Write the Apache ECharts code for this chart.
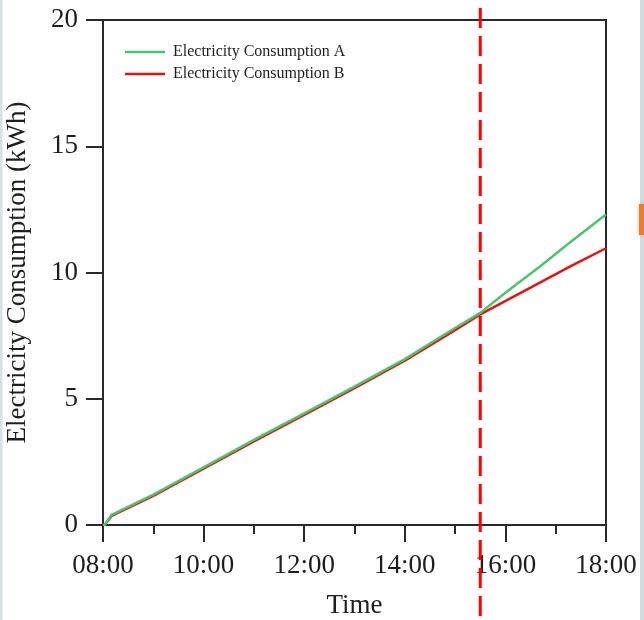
<!DOCTYPE html>
<html>
<head>
<meta charset="utf-8">
<script src="https://cdn.jsdelivr.net/npm/echarts@6/dist/echarts.min.js"></script>
<style>
  html, body { margin: 0; padding: 0; background: #fff; }
  #chart { width: 644px; height: 620px; }
</style>
</head>
<body>
<div id="chart"></div>
<script>
// Time of day in hours
const hoursA = [8.0, 8.04, 8.17, 9, 10, 11, 12, 13, 14, 15, 15.5, 16, 16.7, 17.3, 18];
const consumptionA = [0, 0.02, 0.40, 1.20, 2.28, 3.37, 4.42, 5.48, 6.57, 7.80, 8.40, 9.20, 10.26, 11.22, 12.30];

const hoursB = [8.0, 8.04, 8.17, 9, 10, 11, 12, 13, 14, 15, 15.5, 16.5, 17.3, 18];
const consumptionB = [0, 0.02, 0.36, 1.15, 2.23, 3.31, 4.36, 5.42, 6.51, 7.72, 8.34, 9.40, 10.25, 10.96];

const xTicks = ['08:00', '10:00', '12:00', '14:00', '16:00', '18:00'];
const markerHour = 15.5;

const seriesNames = ['Electricity Consumption A', 'Electricity Consumption B'];
const serif = "'Liberation Serif', 'Times New Roman', serif";
const ink = '#1e1e1e';

function pairs(xs, ys) { return xs.map((x, i) => [x, ys[i]]); }
function hourLabel(v) {
  const h = Math.round(v);
  return (h < 10 ? '0' : '') + h + ':00';
}

const chart = echarts.init(document.getElementById('chart'));
chart.setOption({
  animation: false,
  backgroundColor: '#ffffff',
  grid: [
    { left: 103, top: 20, right: 38, bottom: 95, show: true, borderColor: '#2a2a2a', borderWidth: 2,
      containLabel: false, outerBoundsMode: 'none' },
    { left: 103, top: 8, right: 38, bottom: 0, containLabel: false, outerBoundsMode: 'none' }
  ],
  xAxis: [
    {
      type: 'value', gridIndex: 0, min: 8, max: 18, interval: 2,
      name: 'Time', nameLocation: 'middle', nameGap: 67,
      nameTextStyle: { fontFamily: serif, fontSize: 27, color: ink },
      axisLine: { show: true, lineStyle: { color: '#2a2a2a', width: 2 } },
      axisTick: { show: true, length: 17, lineStyle: { color: '#2a2a2a', width: 2 } },
      minorTick: { show: true, splitNumber: 2, length: 9, lineStyle: { color: '#2a2a2a', width: 2 } },
      splitLine: { show: false },
      axisLabel: {
        margin: 27, fontFamily: serif, fontSize: 27, color: ink,
        formatter: (v) => xTicks[Math.round((v - 8) / 2)] || hourLabel(v)
      }
    },
    { type: 'value', gridIndex: 1, min: 8, max: 18, show: false }
  ],
  yAxis: [
    {
      type: 'value', gridIndex: 0, min: 0, max: 20, interval: 5,
      name: 'Electricity Consumption (kWh)', nameLocation: 'middle', nameGap: 72,
      nameTextStyle: { fontFamily: serif, fontSize: 27, color: ink },
      axisLine: { show: true, lineStyle: { color: '#2a2a2a', width: 2 } },
      axisTick: { show: true, length: 17, lineStyle: { color: '#2a2a2a', width: 2 } },
      splitLine: { show: false },
      axisLabel: { margin: 25, fontFamily: serif, fontSize: 27, color: ink }
    },
    { type: 'value', gridIndex: 1, min: 0, max: 1, show: false }
  ],
  legend: {
    data: seriesNames,
    orient: 'vertical', left: 125, top: 44, padding: 0,
    icon: 'rect', itemWidth: 40, itemHeight: 2.5, itemGap: 6,
    textStyle: { fontFamily: serif, fontSize: 16, color: ink, lineHeight: 16, padding: [0, 0, 0, 3] }
  },
  graphic: [
    { type: 'rect', left: 0, top: 0, shape: { width: 2.5, height: 620 }, style: { fill: '#d5e1e4' }, silent: true },
    { type: 'rect', left: 640, top: 0, shape: { width: 4, height: 620 }, style: { fill: '#d2dde0' }, silent: true },
    { type: 'rect', left: 639, top: 204, shape: { width: 5, height: 31 },
      style: { fill: '#ef7a2a', shadowBlur: 4, shadowColor: 'rgba(0,0,0,0.25)' }, silent: true }
  ],
  series: [
    {
      name: seriesNames[1], type: 'line', xAxisIndex: 0, yAxisIndex: 0,
      data: pairs(hoursB, consumptionB), showSymbol: false, symbol: 'none',
      color: '#e01515', lineStyle: { color: '#e01515', width: 2.5 }, z: 2
    },
    {
      name: seriesNames[0], type: 'line', xAxisIndex: 0, yAxisIndex: 0,
      data: pairs(hoursA, consumptionA), showSymbol: false, symbol: 'none',
      color: '#4cc46e', lineStyle: { color: '#4cc46e', width: 2.5 }, z: 3
    },
    {
      // dashed marker at 15:30, running the full height of the page
      name: 'marker', type: 'line', xAxisIndex: 1, yAxisIndex: 1,
      data: [[markerHour, 1], [markerHour, 0]], showSymbol: false, symbol: 'none',
      lineStyle: { color: '#ff0000', width: 3, type: [20, 8] }, z: 4, silent: true
    }
  ]
});
</script>
</body>
</html>
